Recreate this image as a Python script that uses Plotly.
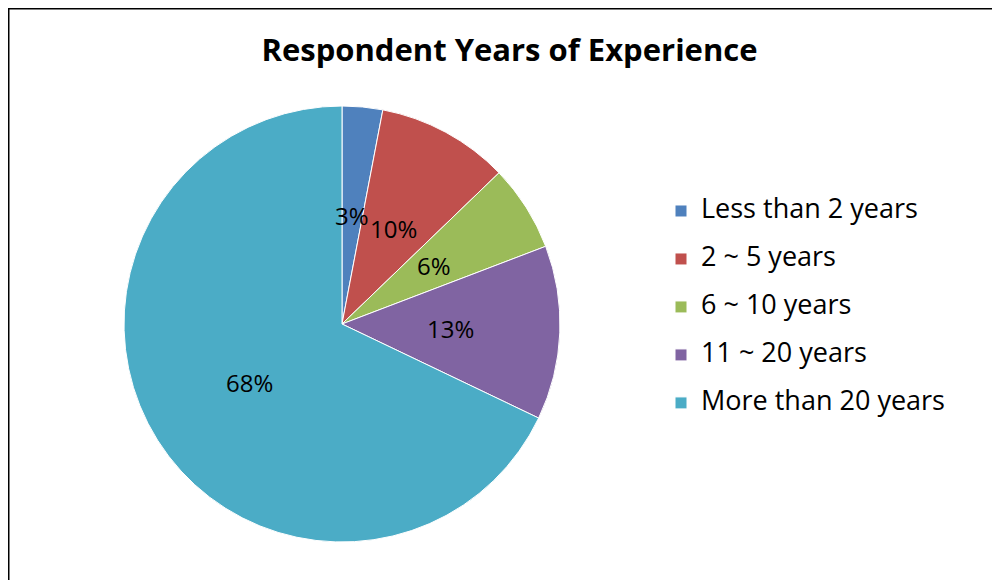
import numpy as np
import plotly.graph_objects as go

categories = ["Less than 2 years", "2 ~ 5 years", "6 ~ 10 years", "11 ~ 20 years", "More than 20 years"]
shares = [3.0, 9.8, 6.4, 12.9, 67.9]
colors = ["#4F81BD", "#C0504D", "#9BBB59", "#8064A2", "#4BACC6"]

W, H = 1000, 580
FONT = "Open Sans, Noto Sans, sans-serif"

# pie geometry in figure pixels
cx, cy, r = 334, 316, 218
dom_x = [(cx - r) / W, (cx + r) / W]
dom_y = [1 - (cy + r) / H, 1 - (cy - r) / H]

legend_labels = ['<span style="font-size:27px;baseline-shift:6px">%s</span>' % c for c in categories]

fig = go.Figure(go.Pie(
    labels=legend_labels,
    values=shares,
    sort=False,
    direction="clockwise",
    rotation=0,
    marker=dict(colors=colors, line=dict(color="white", width=1)),
    textinfo="none",
    domain=dict(x=dom_x, y=dom_y),
    hoverinfo="skip",
))

# percentage labels at half radius, mid-angle of each slice
vals = np.array(shares, dtype=float)
frac = vals / vals.sum()
cum = np.cumsum(frac)
mid = (cum - frac / 2) * 2 * np.pi
for f, a in zip(frac, mid):
    px = cx + 0.5 * r * np.sin(a)
    py = cy - 0.5 * r * np.cos(a)
    fig.add_annotation(
        x=px / W, y=1 - py / H, xref="paper", yref="paper",
        text="%d%%" % round(f * 100), showarrow=False,
        font=dict(family=FONT, size=24, color="black"),
        xanchor="center", yanchor="middle",
    )

fig.add_shape(type="rect", xref="paper", yref="paper",
              x0=0.5 / W, x1=1.02, y0=-0.05, y1=1 - 0.5 / H,
              line=dict(color="black", width=2), fillcolor="rgba(0,0,0,0)")

fig.update_layout(
    width=W, height=H,
    margin=dict(l=0, r=0, t=0, b=0),
    paper_bgcolor="white",
    title=dict(text="<b>Respondent Years of Experience</b>", x=0.5015, xanchor="center",
               y=1 - 42 / H, yanchor="middle",
               font=dict(family=FONT, size=31, color="black")),
    showlegend=True,
    legend=dict(x=0.653, xanchor="left", y=1 - 174 / H, yanchor="top",
                font=dict(family=FONT, size=34.6, color="black"),
                bgcolor="rgba(0,0,0,0)"),
)

fig.write_html("out.html")
